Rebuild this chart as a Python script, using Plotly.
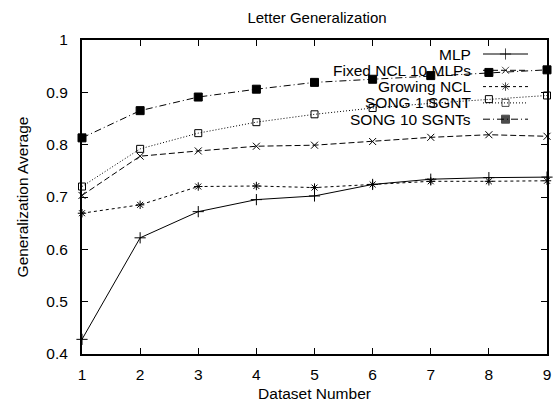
import plotly.graph_objects as go

# ---- data ----
datasets = [1, 2, 3, 4, 5, 6, 7, 8, 9]
mlp = [0.428, 0.622, 0.672, 0.695, 0.702, 0.724, 0.734, 0.737, 0.738]
fixed_ncl = [0.703, 0.778, 0.788, 0.797, 0.799, 0.806, 0.814, 0.819, 0.816]
growing_ncl = [0.669, 0.685, 0.720, 0.721, 0.718, 0.724, 0.730, 0.730, 0.731]
song1 = [0.720, 0.792, 0.822, 0.843, 0.858, 0.870, 0.879, 0.887, 0.894]
song10 = [0.813, 0.865, 0.891, 0.906, 0.919, 0.925, 0.932, 0.938, 0.943]

series_names = ["MLP", "Fixed NCL 10 MLPs", "Growing NCL", "SONG 1 SGNT", "SONG 10 SGNTs"]
series_values = [mlp, fixed_ncl, growing_ncl, song1, song10]
x_ticks = [1, 2, 3, 4, 5, 6, 7, 8, 9]
y_ticks = [0.4, 0.5, 0.6, 0.7, 0.8, 0.9, 1.0]
y_tick_labels = ["0.4", "0.5", "0.6", "0.7", "0.8", "0.9", "1"]

# ---- styles ----
styles = [
    dict(dash="solid", symbol="cross-thin-open", size=8),
    dict(dash="6px,3px", symbol="x-thin-open", size=7),
    dict(dash="3px,3px", symbol="asterisk-open", size=7),
    dict(dash="1px,2px", symbol="square-open", size=7),
    dict(dash="7px,3px,1px,3px", symbol="square", size=8),
]

FONT = "Liberation Sans, Arial, Helvetica, sans-serif"
W, H = 556, 405
L, R, T, B = 82, 9, 40, 51

fig = go.Figure()
for name, vals, st in zip(series_names, series_values, styles):
    fig.add_trace(go.Scatter(
        x=datasets, y=vals, name=name, mode="lines+markers",
        line=dict(color="black", width=1, dash=st["dash"]),
        marker=dict(symbol=st["symbol"], size=st["size"], color="black",
                    line=dict(color="black", width=1)),
        showlegend=False, cliponaxis=False,
    ))

# ---- gnuplot-style key (text right-aligned, sample to the right) ----
px_left, px_right = L, W - R
px_top, px_bottom = T, H - B
key_text_right = 473
key_line_x0, key_line_x1 = 483, 528
key_y0, key_dy = 54, 16.3
for i, (name, st) in enumerate(zip(series_names, styles)):
    ky = key_y0 + i * key_dy
    xm = (key_line_x0 + key_line_x1) / 2
    fig.add_trace(go.Scatter(
        x=[key_line_x0, xm, key_line_x1], y=[ky, ky, ky],
        mode="lines+markers", xaxis="x2", yaxis="y2",
        line=dict(color="black", width=1, dash=st["dash"]),
        marker=dict(symbol=st["symbol"], size=[0, st["size"], 0], color="black",
                    line=dict(color="black", width=1)),
        showlegend=False, hoverinfo="skip", cliponaxis=False,
    ))
    fig.add_annotation(x=key_text_right, y=ky, xref="x2", yref="y2",
                       text=name, showarrow=False, xanchor="right", yanchor="middle",
                       font=dict(family=FONT, size=15.5, color="black"))

axis_common = dict(
    showgrid=False, zeroline=False, showline=True, linecolor="black", linewidth=2,
    mirror="ticks", ticks="inside", ticklen=6, tickwidth=1, tickcolor="black",
    tickfont=dict(family=FONT, size=15.5, color="black"), automargin=False,
)

fig.update_layout(
    width=W, height=H,
    margin=dict(l=L, r=R, t=T, b=B),
    paper_bgcolor="white", plot_bgcolor="white",
    title=dict(text="Letter Generalization", x=317 / W, xanchor="center",
               y=1 - 18 / H, yanchor="middle",
               font=dict(family=FONT, size=15, color="black")),
    xaxis=dict(range=[1, 9], tickvals=x_ticks, ticklabelstandoff=5,
               title=dict(text="Dataset Number", standoff=7,
                          font=dict(family=FONT, size=15.5, color="black")),
               **axis_common),
    yaxis=dict(range=[0.4, 1.0], tickvals=y_ticks, ticktext=y_tick_labels,
               ticklabelstandoff=9,
               title=dict(text="Generalization Average", standoff=14,
                          font=dict(family=FONT, size=15.5, color="black")),
               **axis_common),
    xaxis2=dict(range=[px_left, px_right], overlaying="x", visible=False, fixedrange=True),
    yaxis2=dict(range=[px_bottom, px_top], overlaying="y", visible=False, fixedrange=True),
    showlegend=False,
)

fig.write_html("out.html")
